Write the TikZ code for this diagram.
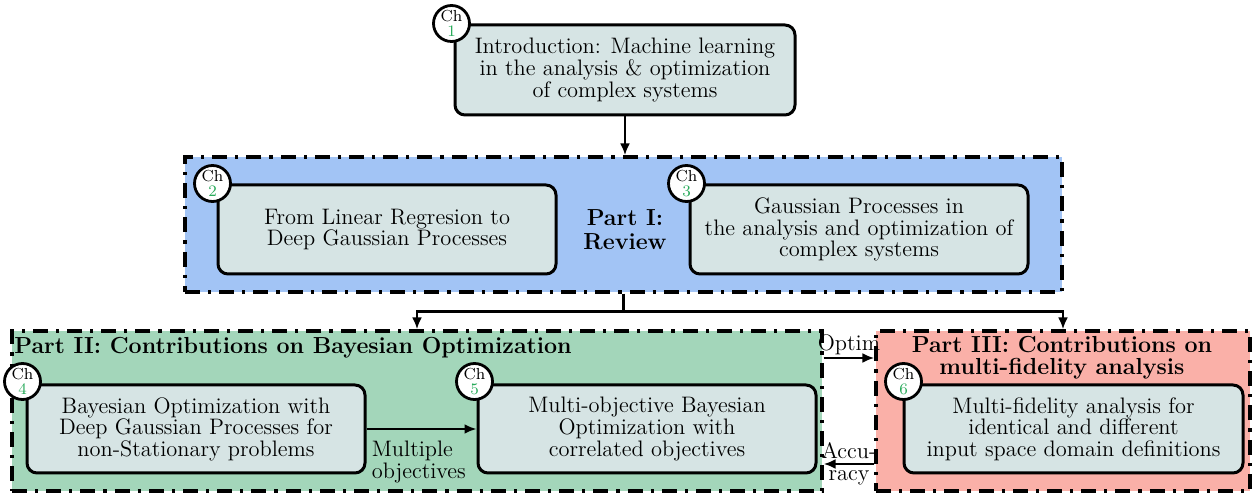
\documentclass[tikz,border=0pt]{standalone}
\usepackage{xcolor}
\usetikzlibrary{arrows.meta}
\definecolor{chfill}{RGB}{214,228,228}
\definecolor{partone}{RGB}{162,196,245}
\definecolor{parttwo}{RGB}{163,214,186}
\definecolor{partthree}{RGB}{250,176,168}
\definecolor{chgreen}{RGB}{40,170,90}
\begin{document}
\begin{tikzpicture}[x=0.5pt,y=-0.5pt,font=\fontsize{11.2}{10.8}\selectfont]

    \tikzset{
      chapter/.style={
        draw,
        line width=1.5pt,
        rounded corners=5pt,
        fill=chfill,
        align=center,
        inner sep=0pt,
      },
      part/.style={
        draw,
        line width=1.6pt,
        dash pattern=on 7.5pt off 4pt on 1.6pt off 4pt,
        inner sep=0pt,
      },
      partlabel/.style={
        font=\fontsize{11.6}{11}\selectfont\bfseries,
        inner sep=0pt,
      },
      chcircle/.style={
        circle,
        draw,
        line width=1.4pt,
        fill=white,
        inner sep=0pt,
        minimum size=18pt,
        align=center,
        font=\fontsize{8}{7.5}\selectfont,
      },
      arr/.style={line width=1.4pt,-{Latex[length=6pt,width=5pt]}},
    }
    \useasboundingbox (0,0) rectangle (1253,496);

    % parts
    \node[part,fill=partone,minimum width=438.5pt,minimum height=67.5pt] (p1) at (623.5,224.5) {};
    \node[part,fill=parttwo,minimum width=405pt,minimum height=80pt] (p2) at (417,411) {};
    \node[part,fill=partthree,minimum width=187pt,minimum height=80pt] (p3) at (1063,411) {};

    \node[partlabel,align=center] (p1t) at (625,230) {Part I:\\[1pt]Review};
    \node[partlabel,anchor=north west] (p2t) at (14,337) {Part II: Contributions on Bayesian Optimization};
    \node[partlabel,align=center] (p3t) at (1062,358) {Part III: Contributions on\\multi-fidelity analysis};

    % chapters
    \node[chapter,minimum width=170pt,minimum height=45pt] (ch1) at (625,70)
      {Introduction: Machine learning\\in the analysis \& optimization\\of complex systems};
    \node[chapter,minimum width=169pt,minimum height=44.5pt] (ch2) at (387,229.5)
      {From Linear Regresion to\\Deep Gaussian Processes};
    \node[chapter,minimum width=169pt,minimum height=44.5pt] (ch3) at (859,229.5)
      {Gaussian Processes in\\the analysis and optimization of\\complex systems};
    \node[chapter,minimum width=169pt,minimum height=44pt] (ch4) at (196,429)
      {Bayesian Optimization with\\Deep Gaussian Processes for\\non-Stationary problems};
    \node[chapter,minimum width=169pt,minimum height=44pt] (ch5) at (647,429)
      {Multi-objective Bayesian\\Optimization with\\correlated objectives};
    \node[chapter,minimum width=169.5pt,minimum height=44pt] (ch6) at (1073.5,429)
      {Multi-fidelity analysis for\\identical and different\\input space domain definitions};

    % chapter numbers
    \foreach \n/\dx/\dy in {1/-1/0,2/-2/0,3/-1/0,4/-1.5/1,5/-1/1,6/0.5/1}
      \node[chcircle] (c\n) at ([xshift=\dx pt,yshift=\dy pt]ch\n.north west) {Ch\\\textcolor{chgreen}{\n}};

    % connectors
    \draw[arr] (ch1.south) -- (ch1.south |- p1.north);
    \coordinate (fork) at ([yshift=-9pt]p1.south);
    \draw[arr] (p1.south) -- (fork) -| (p2.north);
    \draw[arr] (fork) -| (p3.north);
    \draw[arr] (ch4.east) -- (ch5.west);
    \node[anchor=north west,align=left,inner sep=0pt] (mo) at ([xshift=2.5pt,yshift=-6pt]ch4.east) {Multiple\\objectives};
    \draw[arr] ([yshift=26.5pt]p2.east) -- ([yshift=26.5pt]p3.west)
      node[midway,above,inner sep=1pt] (op) {Optim};
    \draw[arr] ([yshift=-26.5pt]p3.west) -- ([yshift=-26.5pt]p2.east)
      node[midway,align=center,inner sep=0pt] (ac) {Accu-\\racy};

\end{tikzpicture}
\end{document}
